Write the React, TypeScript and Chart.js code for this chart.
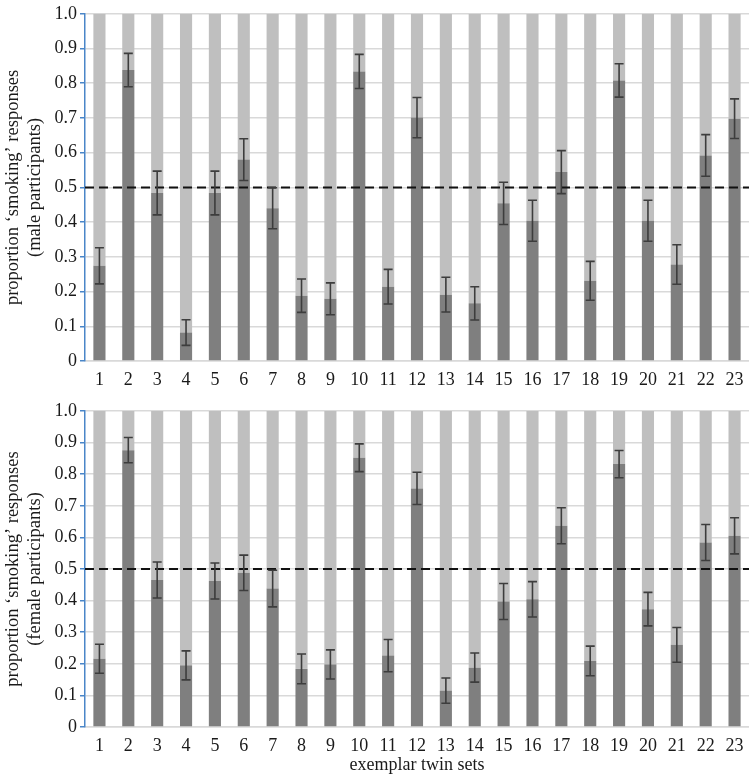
import React, { useEffect, useRef } from 'react';
import { Chart, registerables } from 'chart.js';

Chart.register(...registerables);

const categories = ['1', '2', '3', '4', '5', '6', '7', '8', '9', '10', '11', '12', '13', '14', '15', '16', '17', '18', '19', '20', '21', '22', '23'];

const maleValues = [0.274, 0.838, 0.484, 0.082, 0.484, 0.58, 0.44, 0.188, 0.179, 0.834, 0.214, 0.701, 0.191, 0.166, 0.454, 0.404, 0.544, 0.231, 0.808, 0.404, 0.278, 0.592, 0.698];
const maleErrors = [0.052, 0.048, 0.063, 0.037, 0.063, 0.06, 0.059, 0.048, 0.046, 0.049, 0.05, 0.058, 0.05, 0.048, 0.061, 0.059, 0.062, 0.056, 0.048, 0.059, 0.057, 0.06, 0.057];

const femaleValues = [0.216, 0.876, 0.465, 0.195, 0.462, 0.488, 0.438, 0.184, 0.198, 0.852, 0.226, 0.755, 0.115, 0.188, 0.397, 0.404, 0.637, 0.209, 0.832, 0.373, 0.26, 0.584, 0.605];
const femaleErrors = [0.046, 0.04, 0.057, 0.046, 0.057, 0.056, 0.058, 0.047, 0.046, 0.044, 0.051, 0.051, 0.04, 0.046, 0.057, 0.056, 0.057, 0.047, 0.043, 0.053, 0.055, 0.057, 0.057];

const yTickLabels = ['0', '0.1', '0.2', '0.3', '0.4', '0.5', '0.6', '0.7', '0.8', '0.9', '1.0'];
const threshold = 0.5;

const yTitleMain = 'proportion \u2018smoking\u2019 responses';
const maleSubtitle = '(male participants)';
const femaleSubtitle = '(female participants)';
const xTitle = 'exemplar twin sets';

const FONT = '"Liberation Serif", "Times New Roman", serif';

type PanelProps = {
  values: number[];
  errors: number[];
  subtitle: string;
  showXTitle: boolean;
  height: number;
  padTop: number;
  xHeight: number;
};

function Panel({ values, errors, subtitle, showXTitle, height, padTop, xHeight }: PanelProps) {
  const ref = useRef<HTMLCanvasElement | null>(null);

  useEffect(() => {
    if (!ref.current) return;
    const rest = values.map((v) => 1 - v);

    const overlay = {
      id: 'overlay',
      afterDatasetsDraw(chart: any) {
        const { ctx, chartArea, scales } = chart;
        const y = scales.y;
        ctx.save();
        const yy = y.getPixelForValue(threshold);
        ctx.strokeStyle = '#111111';
        ctx.lineWidth = 2;
        ctx.setLineDash([9, 5]);
        ctx.beginPath();
        ctx.moveTo(chartArea.left, yy);
        ctx.lineTo(chartArea.right, yy);
        ctx.stroke();
        ctx.setLineDash([]);
        const meta = chart.getDatasetMeta(0);
        ctx.strokeStyle = '#3d3d3d';
        ctx.lineWidth = 1.6;
        meta.data.forEach((bar: any, i: number) => {
          const x = bar.x;
          const top = y.getPixelForValue(values[i] + errors[i]);
          const bot = y.getPixelForValue(values[i] - errors[i]);
          const cap = 4.5;
          ctx.beginPath();
          ctx.moveTo(x, top);
          ctx.lineTo(x, bot);
          ctx.moveTo(x - cap, top);
          ctx.lineTo(x + cap, top);
          ctx.moveTo(x - cap, bot);
          ctx.lineTo(x + cap, bot);
          ctx.stroke();
        });
        ctx.restore();
      },
    };

    const chart = new Chart(ref.current, {
      type: 'bar',
      data: {
        labels: categories,
        datasets: [
          {
            data: values,
            backgroundColor: '#7f7f7f',
            borderWidth: 0,
            barPercentage: 0.42,
            categoryPercentage: 1,
          },
          {
            data: rest,
            backgroundColor: '#bfbfbf',
            borderWidth: 0,
            barPercentage: 0.42,
            categoryPercentage: 1,
          },
        ],
      },
      options: {
        animation: false,
        responsive: false,
        maintainAspectRatio: false,
        layout: { padding: { top: padTop, left: 0, right: 0, bottom: 0 } },
        plugins: { legend: { display: false }, tooltip: { enabled: false } },
        scales: {
          x: {
            stacked: true,
            grid: { display: false },
            border: { display: true, color: '#d9d9d9', width: 1.5 },
            ticks: {
              color: '#1a1a1a',
              font: { family: FONT, size: 18 },
              padding: 0,
              maxRotation: 0,
              autoSkip: false,
            },
            title: {
              display: showXTitle,
              text: xTitle,
              color: '#1a1a1a',
              font: { family: FONT, size: 18 },
              padding: { top: 0, bottom: 0 },
            },
            afterFit(scale: any) {
              scale.height = xHeight;
            },
          },
          y: {
            stacked: true,
            min: 0,
            max: 1,
            grid: {
              color: '#d9d9d9',
              lineWidth: 1.5,
              drawTicks: true,
              tickLength: 5,
              tickColor: '#4a86c8',
            },
            border: { display: true, color: '#4a86c8', width: 1.5 },
            ticks: {
              stepSize: 0.1,
              color: '#1a1a1a',
              font: { family: FONT, size: 18 },
              padding: 3,
              callback: (_v: any, i: number) => yTickLabels[i],
            },
            title: {
              display: true,
              text: [yTitleMain, subtitle],
              color: '#1a1a1a',
              font: { family: FONT, size: 18.5, lineHeight: 1.15 },
              padding: { top: 3, bottom: 0 },
            },
            afterFit(scale: any) {
              scale.width = 85;
            },
          },
        },
      },
      plugins: [overlay],
    });
    return () => chart.destroy();
  }, [values, errors, subtitle, showXTitle, height, padTop, xHeight]);

  return <canvas ref={ref} width={749} height={height} style={{ display: 'block', width: 749, height }} />;
}

export default function App() {
  return (
    <div style={{ position: 'absolute', left: 0, top: 0, width: 749, height: 776, background: '#ffffff' }}>
      <Panel values={maleValues} errors={maleErrors} subtitle={maleSubtitle} showXTitle={false} height={390} padTop={10} xHeight={29} />
      <Panel values={femaleValues} errors={femaleErrors} subtitle={femaleSubtitle} showXTitle={true} height={386} padTop={21} xHeight={49} />
    </div>
  );
}
